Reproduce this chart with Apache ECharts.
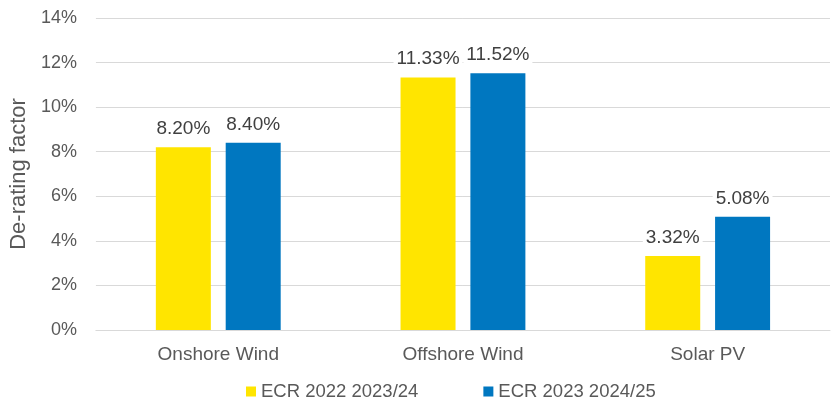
<!DOCTYPE html>
<html lang="en">
<head>
  <meta charset="UTF-8">
  <title>De-rating factor</title>
  <script src="https://cdn.jsdelivr.net/npm/echarts@6.0.0/dist/echarts.min.js"></script>
  <style>
    body { margin: 0; background: #fff; }
    #chart { width: 837px; height: 400px; }
  </style>
</head>
<body>
  <div id="chart"></div>
  <script>
    // data
    const categories = ['Onshore Wind', 'Offshore Wind', 'Solar PV'];
    const ecr2022 = [8.20, 11.33, 3.32];
    const ecr2023 = [8.40, 11.52, 5.08];
    const seriesNames = ['ECR 2022 2023/24', 'ECR 2023 2024/25'];

    const font = 'Liberation Sans, Arial, sans-serif';
    const chart = echarts.init(document.getElementById('chart'));

    const barLabel = {
      show: true,
      position: 'top',
      distance: 8,
      formatter: p => p.value.toFixed(2) + '%',
      color: '#404040',
      fontSize: 19,
      fontFamily: font,
      backgroundColor: '#fff',
      padding: [1, 3]
    };

    chart.setOption({
      animation: false,
      grid: { left: 93, right: 7, top: 18, bottom: 70 },
      legend: {
        data: seriesNames,
        top: 382,
        left: 246,
        padding: 0,
        itemWidth: 10,
        itemHeight: 10,
        itemGap: 65,
        icon: 'rect',
        textStyle: { color: '#595959', fontSize: 18.5, fontFamily: font }
      },
      xAxis: {
        type: 'category',
        data: categories,
        axisLine: { show: true, lineStyle: { color: '#d9d9d9' } },
        axisTick: { show: false },
        axisLabel: { color: '#595959', fontSize: 19, fontFamily: font, margin: 15 }
      },
      yAxis: {
        type: 'value',
        min: 0,
        max: 14,
        interval: 2,
        name: 'De-rating factor',
        nameLocation: 'middle',
        nameGap: 64,
        nameTextStyle: { color: '#595959', fontSize: 22, fontFamily: font },
        axisLine: { show: false },
        axisTick: { show: false },
        axisLabel: { formatter: '{value}%', color: '#595959', fontSize: 18, fontFamily: font, margin: 19 },
        splitLine: { lineStyle: { color: '#d9d9d9', width: 1 } }
      },
      series: [
        {
          name: seriesNames[0],
          type: 'bar',
          data: ecr2022,
          barWidth: 55,
          barGap: '27%',
          itemStyle: { color: '#FFE500' },
          label: barLabel,
          z: 3
        },
        {
          name: seriesNames[1],
          type: 'bar',
          data: ecr2023,
          barWidth: 55,
          itemStyle: { color: '#0077C0' },
          label: barLabel,
          z: 3
        }
      ]
    });
  </script>
</body>
</html>
